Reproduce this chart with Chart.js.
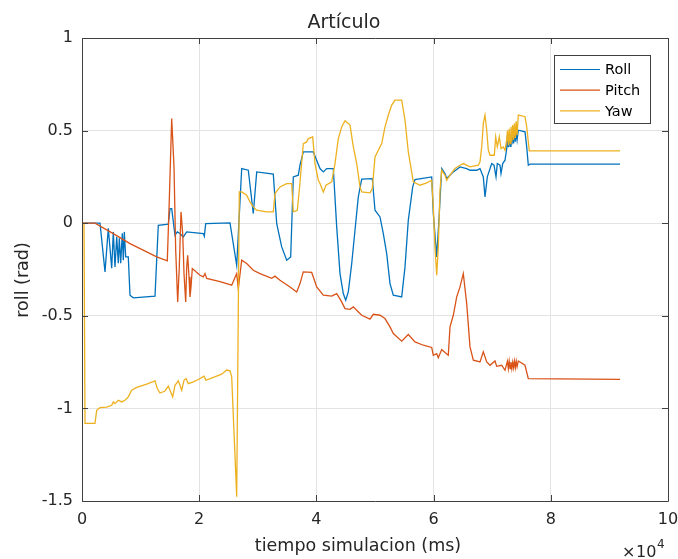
<!DOCTYPE html>
<html>
<head>
<meta charset="utf-8">
<title>Artículo</title>
<script src="https://cdn.jsdelivr.net/npm/chart.js@4.4.1/dist/chart.umd.min.js"></script>
<style>
  html, body { margin: 0; padding: 0; background: #fff; }
  canvas { display: block; }
</style>
</head>
<body>
<canvas id="artChart" width="678" height="559"></canvas>
<script>
// [tiempo (ms), ángulo (rad)]
const roll = [
  [0, 0], [3072, 0], [3157, 0], [3925, -0.263], [4488, -0.027], [5068, -0.243], [5341, -0.047],
  [5631, -0.236], [5921, -0.074], [6195, -0.216], [6365, -0.081], [6604, -0.216], [6877, -0.054],
  [7048, -0.2], [7218, -0.047], [7457, -0.182], [7901, -0.182], [8191, -0.389], [8754, -0.403],
  [12457, -0.394], [13020, -0.011], [14727, -0.005], [15017, 0.079], [15307, 0.079], [15870, -0.065],
  [16263, -0.047], [16724, -0.056], [17287, -0.074], [17867, -0.047], [20700, -0.056], [20871, -0.07],
  [21110, -0.002], [25256, 0.002], [26399, -0.227], [27253, 0.295], [28379, 0.286], [29232, 0.052],
  [29813, 0.277], [32645, 0.265], [33226, -0.002], [34079, -0.128], [34932, -0.2], [35614, -0.182],
  [36058, 0.25], [36911, 0.259], [37202, 0.313], [37765, 0.385], [39471, 0.385], [40615, 0.295],
  [41178, 0.277], [41758, 0.295], [42884, 0.295], [43464, -0.02], [44028, -0.272], [44591, -0.38],
  [45000, -0.416], [45444, -0.371], [46024, -0.218], [46587, -0.038], [47150, 0.142], [47730, 0.238],
  [49539, 0.241], [50000, 0.07], [50854, 0.034], [51417, -0.056], [51997, -0.164], [52560, -0.326],
  [53124, -0.389], [54557, -0.398], [55120, -0.236], [55683, 0.016], [56434, 0.196], [56826, 0.236],
  [59676, 0.25], [59949, 0.052], [60529, -0.182], [60973, 0.052], [61383, 0.295], [61946, 0.268],
  [62236, 0.241], [62799, 0.259], [63362, 0.277], [64506, 0.304], [65649, 0.295], [66213, 0.286],
  [67356, 0.286], [67919, 0.295], [68482, 0.25], [68772, 0.142], [69165, 0.25], [69916, 0.322],
  [70308, 0.313], [70649, 0.25], [70871, 0.322], [71332, 0.313], [71502, 0.268], [71792, 0.322],
  [72185, 0.34], [72475, 0.403], [72600, 0.475], [72750, 0.41], [72900, 0.48], [73050, 0.415],
  [73200, 0.48], [73350, 0.425], [73500, 0.485], [73650, 0.43], [73800, 0.49], [73950, 0.44],
  [74100, 0.495], [74250, 0.45], [74455, 0.502], [75598, 0.493], [75888, 0.412], [76161, 0.313],
  [76451, 0.319], [91810, 0.319]
];

const pitch = [
  [0, 0], [2218, 0], [5341, -0.056], [8191, -0.11], [11041, -0.155], [12747, -0.182], [14556, -0.203],
  [14898, 0.124], [15307, 0.565], [15700, 0.304], [15990, -0.146], [16331, -0.425], [16604, -0.236],
  [16894, 0.061], [17184, -0.056], [17406, -0.272], [17696, -0.425], [17867, -0.236], [18038, -0.173],
  [18260, -0.29], [18430, -0.398], [18601, -0.344], [18823, -0.245], [20137, -0.281], [20700, -0.29],
  [20990, -0.272], [21281, -0.298], [23550, -0.316], [25546, -0.335], [26399, -0.272], [26672, -0.353],
  [27253, -0.2], [28106, -0.218], [29232, -0.254], [30376, -0.272], [32372, -0.298], [32935, -0.286],
  [33789, -0.308], [35495, -0.344], [36639, -0.371], [37202, -0.326], [37765, -0.263], [39198, -0.266],
  [39471, -0.29], [40052, -0.344], [41178, -0.389], [42611, -0.394], [43464, -0.38], [44318, -0.425],
  [44881, -0.461], [45734, -0.465], [46297, -0.452], [46877, -0.47], [47730, -0.497], [49147, -0.518],
  [49710, -0.492], [50854, -0.497], [51707, -0.515], [52560, -0.56], [53124, -0.596], [54557, -0.637],
  [55683, -0.601], [56826, -0.641], [58242, -0.659], [59676, -0.671], [59949, -0.713], [60529, -0.704],
  [60802, -0.726], [61383, -0.682], [61946, -0.698], [62509, -0.713], [62799, -0.56], [63362, -0.497],
  [63942, -0.398], [64506, -0.344], [65069, -0.272], [65649, -0.434], [66213, -0.668], [66776, -0.74],
  [67919, -0.749], [68482, -0.695], [69063, -0.749], [69626, -0.767], [70478, -0.744], [70769, -0.773],
  [71622, -0.767], [72185, -0.794], [72475, -0.76], [72600, -0.745], [72750, -0.785], [72900, -0.745],
  [73050, -0.785], [73200, -0.75], [73350, -0.785], [73500, -0.75], [73650, -0.78], [73800, -0.745],
  [73950, -0.78], [74100, -0.745], [74250, -0.775], [74455, -0.744], [75598, -0.767], [76161, -0.839],
  [91810, -0.843]
];

const yaw = [
  [0, 0], [341, 0], [512, -1.081], [2218, -1.081], [2508, -1.01], [3072, -0.996], [4215, -0.993],
  [5068, -0.983], [5341, -0.965], [5631, -0.974], [6195, -0.956], [6775, -0.965], [7338, -0.956],
  [7901, -0.938], [8481, -0.902], [9334, -0.887], [11041, -0.869], [12457, -0.851], [12850, -0.893],
  [13311, -0.917], [14164, -0.906], [14727, -0.88], [15017, -0.902], [15478, -0.938], [15870, -0.875],
  [16433, -0.851], [16724, -0.875], [17014, -0.902], [17406, -0.848], [17748, -0.839], [18140, -0.866],
  [18994, -0.857], [19847, -0.844], [20819, -0.826], [21161, -0.848], [22407, -0.833], [23840, -0.815],
  [24693, -0.793], [25256, -0.797], [25546, -0.83], [26399, -1.477], [26843, 0.169], [27253, 0.169],
  [28106, 0.151], [28669, 0.115], [29232, 0.088], [29813, 0.07], [31519, 0.061], [32645, 0.061],
  [32935, 0.16], [33789, 0.196], [34932, 0.214], [35785, 0.214], [36058, 0.061], [36741, 0.07],
  [37082, 0.178], [37765, 0.43], [38345, 0.439], [38618, 0.457], [39369, 0.466], [39761, 0.322],
  [40325, 0.232], [40615, 0.214], [41178, 0.169], [41638, 0.205], [42611, 0.223], [43174, 0.322],
  [43738, 0.457], [44318, 0.52], [44881, 0.553], [45444, 0.539], [45734, 0.53], [46297, 0.413],
  [46877, 0.322], [47441, 0.196], [47730, 0.169], [49147, 0.164], [49539, 0.187], [50000, 0.358],
  [50564, 0.394], [51144, 0.43], [51707, 0.52], [52270, 0.583], [52850, 0.638], [53414, 0.665],
  [54557, 0.665], [55120, 0.557], [55683, 0.385], [56536, 0.223], [57680, 0.205], [58823, 0.218],
  [59676, 0.232], [59949, 0.088], [60239, -0.128], [60529, -0.281], [60802, -0.128], [61093, 0.178],
  [61383, 0.286], [61946, 0.259], [62236, 0.232], [62799, 0.259], [63652, 0.295], [64506, 0.313],
  [65069, 0.322], [66213, 0.304], [67629, 0.313], [67919, 0.331], [68209, 0.412], [68482, 0.539],
  [68772, 0.584], [69063, 0.502], [69336, 0.394], [69626, 0.367], [70359, 0.367], [70598, 0.466],
  [70871, 0.412], [71212, 0.466], [71502, 0.403], [71894, 0.412], [72185, 0.394], [72475, 0.45],
  [72600, 0.5], [72750, 0.42], [72900, 0.51], [73050, 0.43], [73200, 0.52], [73350, 0.44],
  [73500, 0.53], [73650, 0.45], [73800, 0.54], [73950, 0.46], [74100, 0.55], [74250, 0.475],
  [74455, 0.584], [75598, 0.575], [75888, 0.52], [76332, 0.39], [91810, 0.39]
];

const seriesNames = ['Roll', 'Pitch', 'Yaw'];
const seriesColors = ['#0072BD', '#D95319', '#EDB120'];
const xTicks = [0, 2, 4, 6, 8, 10];          // x 10^4 ms
const yTicks = [-1.5, -1, -0.5, 0, 0.5, 1];

const FONT = 'DejaVu Sans';
const TEXT = '#262626';
const AXIS = '#404040';

const toPoints = arr => arr.map(p => ({ x: p[0], y: p[1] }));

// title, axis labels, box, inward ticks and legend
const framePlugin = {
  id: 'frame',
  afterDraw(chart) {
    const ctx = chart.ctx;
    const a = chart.chartArea;
    const xs = chart.scales.x, ys = chart.scales.y;
    ctx.save();

    // box
    ctx.strokeStyle = AXIS;
    ctx.lineWidth = 1;
    ctx.beginPath();
    ctx.rect(Math.round(a.left) + 0.5, Math.round(a.top) + 0.5,
      Math.round(a.right - a.left), Math.round(a.bottom - a.top));
    ctx.stroke();

    // inward ticks
    ctx.beginPath();
    xTicks.forEach(t => {
      const px = Math.round(xs.getPixelForValue(t * 1e4)) + 0.5;
      ctx.moveTo(px, a.bottom); ctx.lineTo(px, a.bottom - 6);
      ctx.moveTo(px, a.top); ctx.lineTo(px, a.top + 6);
    });
    yTicks.forEach(t => {
      const py = Math.round(ys.getPixelForValue(t)) + 0.5;
      ctx.moveTo(a.left, py); ctx.lineTo(a.left + 6, py);
      ctx.moveTo(a.right, py); ctx.lineTo(a.right - 6, py);
    });
    ctx.stroke();

    ctx.fillStyle = TEXT;

    // title
    ctx.font = '19px "' + FONT + '"';
    ctx.textAlign = 'center';
    ctx.textBaseline = 'alphabetic';
    ctx.fillText('Artículo', 344, 28);

    // x label
    ctx.font = '17.5px "' + FONT + '"';
    ctx.fillText('tiempo simulacion (ms)', 358, 551);

    // exponent
    ctx.textAlign = 'left';
    ctx.font = '16px "' + FONT + '"';
    ctx.fillText('\u00d7', 622, 557);
    ctx.fillText('10', 636, 557);
    ctx.font = '12px "' + FONT + '"';
    ctx.fillText('4', 657, 548);

    // y label
    ctx.save();
    ctx.translate(28, 280);
    ctx.rotate(-Math.PI / 2);
    ctx.textAlign = 'center';
    ctx.font = '17.5px "' + FONT + '"';
    ctx.fillText('roll (rad)', 0, 0);
    ctx.restore();

    // legend
    const lx = 554.5, ly = 55.5, lw = 96, lh = 68;
    ctx.fillStyle = '#fff';
    ctx.fillRect(lx, ly, lw, lh);
    ctx.strokeStyle = AXIS;
    ctx.strokeRect(lx, ly, lw, lh);
    ctx.font = '14.5px "' + FONT + '"';
    ctx.textBaseline = 'middle';
    chart.data.datasets.forEach((ds, i) => {
      const ry = 69.5 + i * 20.7;
      ctx.strokeStyle = ds.borderColor;
      ctx.lineWidth = 1.2;
      ctx.beginPath();
      ctx.moveTo(560, ry); ctx.lineTo(600, ry);
      ctx.stroke();
      ctx.fillStyle = '#000';
      ctx.fillText(ds.label, 605, ry + 1);
    });

    ctx.restore();
  }
};

const ctx = document.getElementById('artChart').getContext('2d');

new Chart(ctx, {
  type: 'line',
  data: {
    datasets: [roll, pitch, yaw].map((s, i) => ({
      label: seriesNames[i],
      data: toPoints(s),
      borderColor: seriesColors[i],
      borderWidth: 1.3,
      pointRadius: 0,
      tension: 0,
      fill: false,
      order: 3 - i
    }))
  },
  options: {
    responsive: false,
    animation: false,
    layout: { padding: { top: 38, right: 10, left: 0, bottom: 0 } },
    plugins: {
      legend: { display: false },
      title: { display: false },
      tooltip: { enabled: false }
    },
    scales: {
      x: {
        type: 'linear',
        min: 0,
        max: 100000,
        afterFit: s => { s.height = 58; s.paddingLeft = 0; s.paddingRight = 0; },
        afterBuildTicks: s => { s.ticks = xTicks.map(v => ({ value: v * 1e4 })); },
        ticks: {
          callback: v => String(v / 1e4),
          color: TEXT,
          font: { family: FONT, size: 16 },
          padding: 9,
          maxRotation: 0,
          autoSkip: false
        },
        grid: { color: '#e3e3e3', drawTicks: false },
        border: { display: false }
      },
      y: {
        type: 'linear',
        min: -1.5,
        max: 1,
        afterFit: s => { s.width = 82; s.paddingTop = 0; s.paddingBottom = 0; },
        afterBuildTicks: s => { s.ticks = yTicks.map(v => ({ value: v })); },
        ticks: {
          callback: v => String(v),
          color: TEXT,
          font: { family: FONT, size: 16 },
          padding: 9,
          autoSkip: false
        },
        grid: { color: '#e3e3e3', drawTicks: false },
        border: { display: false }
      }
    }
  },
  plugins: [framePlugin]
});
</script>
</body>
</html>
